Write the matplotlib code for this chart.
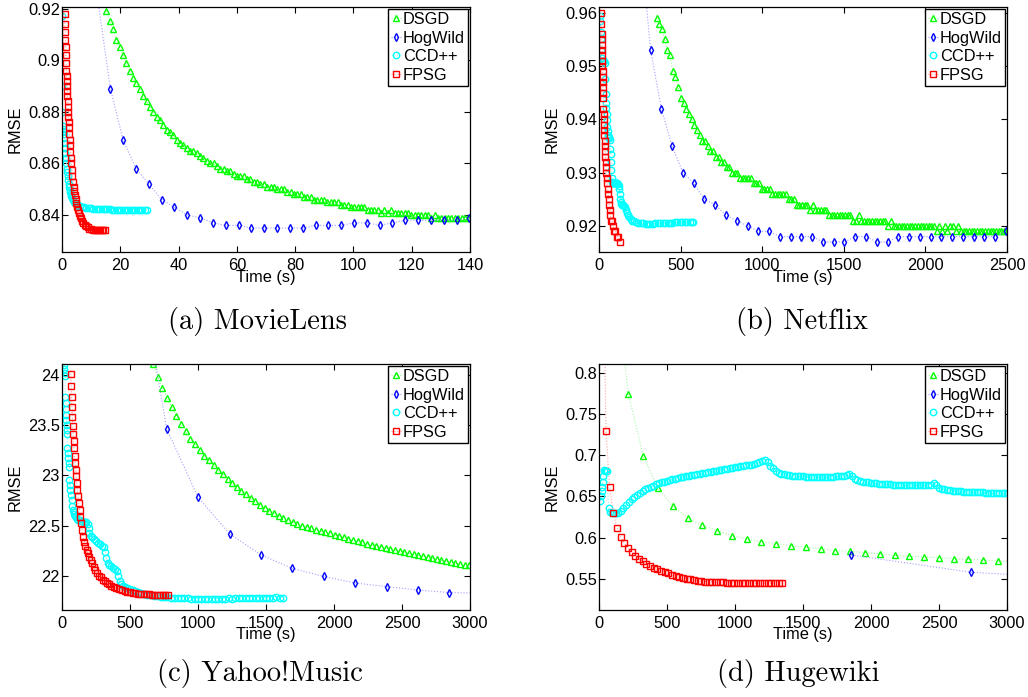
import numpy as np
import matplotlib
matplotlib.use("Agg")
import matplotlib.pyplot as plt
from matplotlib.ticker import FuncFormatter

plt.rcParams['font.family'] = ['Liberation Sans', 'DejaVu Sans']
plt.rcParams['mathtext.fontset'] = 'cm'

# ---------------------------------------------------------------- MovieLens
ml_dsgd_start, ml_dsgd_step = 15.2, 1.15
ml_dsgd = [0.919, 0.915, 0.912, 0.908, 0.905, 0.902, 0.899, 0.896, 0.893, 0.891,
           0.889, 0.886, 0.884, 0.882, 0.880, 0.878, 0.877, 0.875, 0.873, 0.872,
           0.871, 0.869, 0.868, 0.867, 0.866, 0.865, 0.865, 0.864, 0.863, 0.862,
           0.861, 0.860, 0.860, 0.859, 0.858, 0.858, 0.857, 0.857, 0.856, 0.855,
           0.855, 0.855, 0.854, 0.854, 0.853, 0.853, 0.852, 0.852, 0.851, 0.851,
           0.851, 0.850, 0.850, 0.850, 0.849, 0.849, 0.848, 0.848, 0.848, 0.847,
           0.847, 0.847, 0.846, 0.846, 0.846, 0.846, 0.845, 0.845, 0.845, 0.845,
           0.844, 0.844, 0.844, 0.843, 0.843, 0.843, 0.843, 0.843, 0.842, 0.842,
           0.842, 0.842, 0.841, 0.842, 0.841, 0.842, 0.841, 0.841, 0.841, 0.841,
           0.841, 0.840, 0.840, 0.840, 0.840, 0.840, 0.840, 0.839, 0.840, 0.839,
           0.839, 0.839, 0.839, 0.839, 0.839, 0.839, 0.839, 0.839, 0.839]
ml_hog_start, ml_hog_step = 7.8, 4.4
ml_hog = [1.0, 0.924, 0.889, 0.869, 0.858, 0.852, 0.846, 0.843, 0.840, 0.839,
          0.837, 0.836, 0.836, 0.835, 0.835, 0.835, 0.835, 0.835, 0.836, 0.836,
          0.836, 0.837, 0.837, 0.836, 0.837, 0.838, 0.838, 0.838, 0.838, 0.838,
          0.839]
ml_ccd_t = [0.05, 0.1, 0.15, 0.2, 0.3, 0.45, 0.6, 0.75, 0.9, 1.05, 1.2, 1.35, 1.5,
            1.65, 1.8, 1.95, 2.1, 2.25, 2.4, 2.6, 2.8, 3.0, 3.25, 3.5, 3.8, 4.1,
            4.5, 5.0, 5.6, 6.2, 6.9, 7.6, 8.4, 9.2, 10.0, 10.8, 11.6, 12.4, 13.2,
            14.0, 14.8, 15.6, 16.4, 17.2, 18.0, 18.8, 19.6, 20.4, 21.2, 22.0,
            22.8, 23.6, 24.4, 25.2, 26.0, 26.8, 27.6, 28.4, 29.2]
ml_ccd = [0.917, 0.890, 0.880, 0.8745, 0.8735, 0.8725, 0.8715, 0.870, 0.868,
          0.866, 0.864, 0.862, 0.860, 0.858, 0.8565, 0.855, 0.8535, 0.852, 0.851,
          0.8498, 0.8488, 0.848, 0.8472, 0.8465, 0.8458, 0.8452, 0.8446, 0.8441,
          0.8437, 0.8434, 0.8432, 0.843, 0.8428, 0.8427, 0.8426, 0.8425, 0.8424,
          0.8424, 0.8423, 0.8423, 0.8422, 0.8422, 0.8422, 0.8421, 0.8421, 0.8421,
          0.842, 0.842, 0.842, 0.842, 0.842, 0.8419, 0.8419, 0.8419, 0.8419,
          0.8419, 0.8419, 0.8419, 0.8419]
ml_fpsg_t = [0.92, 1.00, 1.08, 1.16, 1.24, 1.32, 1.40, 1.48, 1.56, 1.64, 1.72,
             1.80, 1.88, 1.96, 2.04, 2.12, 2.20, 2.30, 2.40, 2.52, 2.64, 2.76,
             2.90, 3.05, 3.20, 3.38, 3.56, 3.76, 3.96, 4.18, 4.40, 4.65, 4.90,
             5.2, 5.5, 5.8, 6.1, 6.5, 6.9, 7.3, 7.8, 8.3, 8.8, 9.4, 10.0, 10.6,
             11.2, 11.8, 12.4, 13.0, 13.6, 14.1, 14.65]
ml_fpsg = [0.918, 0.914, 0.911, 0.908, 0.905, 0.902, 0.899, 0.896, 0.894, 0.892,
           0.890, 0.888, 0.886, 0.884, 0.882, 0.880, 0.878, 0.876, 0.874, 0.8715,
           0.869, 0.867, 0.8645, 0.862, 0.860, 0.8575, 0.855, 0.8528, 0.851,
           0.8492, 0.8478, 0.8462, 0.8448, 0.8433, 0.842, 0.8408, 0.8398, 0.8388,
           0.8379, 0.8371, 0.8363, 0.8357, 0.8352, 0.8348, 0.8346, 0.8344, 0.8343,
           0.8342, 0.8342, 0.8342, 0.8342, 0.8342, 0.8342]

# ---------------------------------------------------------------- Netflix
nf_dsgd_start, nf_dsgd_step = 353, 16.5
nf_dsgd = [0.959, 0.958, 0.957, 0.955, 0.953, 0.952, 0.949, 0.948, 0.946, 0.944,
           0.943, 0.942, 0.941, 0.940, 0.939, 0.938, 0.937, 0.936, 0.936, 0.935,
           0.934, 0.934, 0.933, 0.933, 0.932, 0.932, 0.931, 0.931, 0.930, 0.930,
           0.930, 0.929, 0.929, 0.929, 0.929, 0.929, 0.928, 0.928, 0.928, 0.927,
           0.927, 0.927, 0.927, 0.926, 0.926, 0.926, 0.926, 0.926, 0.926, 0.925,
           0.925, 0.925, 0.924, 0.924, 0.924, 0.924, 0.924, 0.923, 0.924, 0.923,
           0.923, 0.923, 0.923, 0.923, 0.922, 0.922, 0.922, 0.922, 0.922, 0.922,
           0.922, 0.922, 0.922, 0.921, 0.921, 0.922, 0.921, 0.921, 0.921, 0.921,
           0.921, 0.921, 0.921, 0.921, 0.921, 0.921, 0.920, 0.921, 0.920, 0.920,
           0.920, 0.920, 0.920, 0.920, 0.920, 0.920, 0.920, 0.920, 0.920, 0.920,
           0.920, 0.920, 0.920, 0.920, 0.919, 0.920, 0.919, 0.920, 0.919, 0.920,
           0.920, 0.919, 0.920, 0.919, 0.919, 0.919, 0.919, 0.919, 0.919, 0.919,
           0.919, 0.919, 0.919, 0.919, 0.919, 0.919, 0.919, 0.919, 0.919, 0.919,
           0.919]
nf_hog_start, nf_hog_step = 250, 66
nf_hog = [0.9753, 0.953, 0.942, 0.935, 0.930, 0.928, 0.925, 0.924, 0.922, 0.921,
          0.920, 0.919, 0.919, 0.918, 0.918, 0.918, 0.918, 0.917, 0.917, 0.917,
          0.918, 0.918, 0.917, 0.917, 0.918, 0.918, 0.918, 0.918, 0.918, 0.918,
          0.918, 0.918, 0.918, 0.918, 0.919]
nf_ccd_t = [6, 8, 10, 12, 14, 16, 19, 23, 27, 31, 35, 38, 41, 43, 45, 47, 49, 51,
            53, 55, 58, 61, 64, 67, 70, 72, 74, 76, 78, 80, 84, 88, 92, 96, 100,
            104, 108, 112, 116, 120, 124, 127, 130, 133, 136, 140, 145, 150, 155,
            160, 165, 170, 178, 186, 195, 205, 215, 225, 240, 255, 270, 285, 300,
            315, 330, 345, 360, 375, 390, 405, 420, 435, 450, 465, 480, 495, 510,
            525, 540, 555, 570, 578]
nf_ccd = [0.9595, 0.9585, 0.9565, 0.955, 0.953, 0.9515, 0.951, 0.951, 0.951,
          0.951, 0.9505, 0.9475, 0.9447, 0.943, 0.9422, 0.941, 0.9398, 0.9386,
          0.9378, 0.937, 0.9366, 0.9366, 0.9365, 0.9362, 0.9345, 0.9335, 0.932,
          0.9305, 0.929, 0.9282, 0.928, 0.928, 0.928, 0.928, 0.928, 0.928, 0.928,
          0.928, 0.9278, 0.9275, 0.927, 0.926, 0.925, 0.9245, 0.9242, 0.924,
          0.924, 0.924, 0.9238, 0.9235, 0.923, 0.9225, 0.922, 0.9216, 0.9213,
          0.921, 0.9209, 0.9207, 0.9206, 0.9205, 0.9205, 0.9204, 0.9204, 0.9204,
          0.9204, 0.9205, 0.9205, 0.9205, 0.9205, 0.9206, 0.9206, 0.9205, 0.9206,
          0.9207, 0.9207, 0.9207, 0.9207, 0.9208, 0.9208, 0.9208, 0.9208, 0.9207]
nf_fpsg_t = [14, 15, 16, 17, 18, 19, 20, 20.5, 21, 22, 23, 23.5, 24, 25, 26, 27,
             28, 29, 30, 31, 32.5, 34, 35.5, 37, 39, 41, 43, 45, 47.5, 50, 53, 56,
             59, 62, 66, 70, 75, 80, 86, 93, 100, 108, 116, 127]
nf_fpsg = [0.960, 0.958, 0.956, 0.955, 0.954, 0.953, 0.952, 0.951, 0.950, 0.949,
           0.948, 0.947, 0.946, 0.945, 0.944, 0.942, 0.941, 0.940, 0.939, 0.938,
           0.937, 0.936, 0.935, 0.934, 0.933, 0.932, 0.931, 0.930, 0.929, 0.928,
           0.927, 0.926, 0.925, 0.924, 0.923, 0.922, 0.921, 0.921, 0.920, 0.919,
           0.919, 0.918, 0.918, 0.917]

# ---------------------------------------------------------------- Yahoo!Music
ym_dsgd_start, ym_dsgd_step = 670, 34.2
ym_dsgd = [24.11, 23.98, 23.87, 23.77, 23.68, 23.59, 23.51, 23.44, 23.36, 23.31,
           23.25, 23.19, 23.15, 23.10, 23.05, 23.01, 22.96, 22.92, 22.88, 22.84,
           22.81, 22.77, 22.74, 22.71, 22.68, 22.65, 22.63, 22.60, 22.58, 22.555,
           22.535, 22.515, 22.50, 22.49, 22.475, 22.46, 22.45, 22.435, 22.425,
           22.41, 22.40, 22.385, 22.37, 22.36, 22.345, 22.335, 22.32, 22.31, 22.30,
           22.29, 22.28, 22.265, 22.255, 22.245, 22.235, 22.225, 22.215, 22.205,
           22.195, 22.185, 22.175, 22.165, 22.155, 22.145, 22.135, 22.125, 22.115,
           22.11, 22.105]
ym_hog_start, ym_hog_step = 539, 231
ym_hog = [25.3, 23.46, 22.78, 22.42, 22.21, 22.075, 21.995, 21.93, 21.895, 21.86,
          21.835, 21.83]
ym_ccd_t = [15, 17, 19, 21, 24, 26, 28, 30, 32, 34, 36, 38, 40, 43, 46, 49, 52,
            55, 58, 62, 66, 70, 75, 80, 85, 90, 95, 100, 110, 120, 130, 140, 150,
            160, 170, 180, 190, 196, 202, 210, 220, 235, 250, 265, 280, 295, 310,
            318, 326, 335, 345, 360, 375, 390, 405, 415, 425, 437, 450, 465, 480,
            500, 520, 540, 560, 580, 600]
ym_ccd = [24.10, 24.06, 24.02, 23.99, 23.78, 23.72, 23.66, 23.60, 23.55, 23.50,
          23.45, 23.41, 23.27, 23.22, 23.17, 23.12, 23.08, 22.95, 22.90, 22.85,
          22.80, 22.75, 22.70, 22.66, 22.64, 22.62, 22.60, 22.585, 22.57, 22.56,
          22.555, 22.55, 22.545, 22.54, 22.54, 22.535, 22.52, 22.48, 22.43, 22.40,
          22.385, 22.37, 22.35, 22.33, 22.315, 22.30, 22.29, 22.24, 22.18, 22.13,
          22.11, 22.095, 22.08, 22.065, 22.05, 22.00, 21.95, 21.92, 21.905,
          21.895, 21.885, 21.87, 21.86, 21.85, 21.84, 21.83, 21.82]
ym_ccd_tail_start, ym_ccd_tail_step = 625, 25
ym_ccd_tail = [21.815, 21.808, 21.802, 21.797, 21.793, 21.79, 21.787, 21.785,
               21.783, 21.781, 21.779, 21.778, 21.777, 21.776, 21.775, 21.775,
               21.774, 21.773, 21.774, 21.775, 21.774, 21.776, 21.775, 21.776,
               21.777, 21.776, 21.778, 21.779, 21.778, 21.780, 21.781, 21.780,
               21.782, 21.783, 21.782, 21.785, 21.786, 21.785, 21.787, 21.786,
               21.786]
ym_fpsg_t = [64, 67, 70, 73, 76, 79, 82, 85, 88, 92, 96, 100, 104, 108, 113, 118,
             123, 129, 135, 141, 148, 155, 163, 172, 181, 190, 200, 210, 220, 232,
             245, 258, 272, 286, 300, 315, 330, 345, 360, 380, 400, 420, 440, 460,
             480, 500, 520, 540, 560, 580, 600, 620, 640, 660, 680, 700, 720, 740,
             760, 780]
ym_fpsg = [24.01, 23.89, 23.78, 23.68, 23.58, 23.49, 23.41, 23.34, 23.27, 23.19,
           23.12, 23.055, 22.99, 22.92, 22.855, 22.79, 22.725, 22.66, 22.59,
           22.525, 22.46, 22.39, 22.34, 22.30, 22.26, 22.225, 22.19, 22.155,
           22.125, 22.09, 22.055, 22.025, 22.0, 21.985, 21.965, 21.947, 21.93,
           21.916, 21.903, 21.89, 21.878, 21.868, 21.86, 21.852, 21.845, 21.838,
           21.832, 21.828, 21.825, 21.822, 21.82, 21.818, 21.816, 21.815, 21.814,
           21.813, 21.812, 21.812, 21.811, 21.811]

# ---------------------------------------------------------------- Hugewiki
hw_dsgd_start, hw_dsgd_step = 107.5, 108.7
hw_dsgd = [0.935, 0.7744, 0.6994, 0.660, 0.6385, 0.6243, 0.6149, 0.6084, 0.6024,
           0.5983, 0.595, 0.5926, 0.5902, 0.5881, 0.5865, 0.5841, 0.5833, 0.5817,
           0.5804, 0.5784, 0.5772, 0.5764, 0.5756, 0.5744, 0.5735, 0.5727, 0.5715,
           0.5705]
hw_hog_t = [1856, 2738, 3620]
hw_hog = [0.5788, 0.5577, 0.5496]
hw_ccd_t = [10, 15, 20, 24, 28, 32, 37, 45, 52, 60, 71, 81, 95, 110, 125, 140]
hw_ccd = [0.645, 0.650, 0.656, 0.661, 0.667, 0.6754, 0.6823, 0.6815, 0.681,
          0.6803, 0.6364, 0.6308, 0.630, 0.630, 0.630, 0.630]
hw_ccd_tail_start, hw_ccd_tail_step = 160, 20
hw_ccd_tail = [0.632, 0.636, 0.640, 0.6435, 0.6465, 0.6495, 0.6522, 0.6545,
               0.6565, 0.6585, 0.660, 0.6615, 0.663, 0.6645, 0.6658, 0.667, 0.668,
               0.669, 0.670, 0.6708, 0.6716, 0.6724, 0.6731, 0.6738, 0.6745, 0.675,
               0.6756, 0.6762, 0.6768, 0.6774, 0.678, 0.6786, 0.6792, 0.6798,
               0.6804, 0.681, 0.682, 0.6826, 0.6832, 0.6838, 0.6843, 0.6848,
               0.6853, 0.6858, 0.6864, 0.687, 0.6876, 0.6882, 0.6888, 0.6895,
               0.6905, 0.6915, 0.6928, 0.6945, 0.692, 0.6875, 0.684, 0.681, 0.679,
               0.6778, 0.6768, 0.6762, 0.6756, 0.6752, 0.6748, 0.6746, 0.6744,
               0.6743, 0.6742, 0.6741, 0.6741, 0.6741, 0.6741, 0.6741, 0.6741,
               0.6742, 0.6742, 0.6742, 0.6742, 0.6743, 0.6744, 0.6745, 0.6748,
               0.6755, 0.6775, 0.6745, 0.6715, 0.6698, 0.6688, 0.6681, 0.6675,
               0.667, 0.6666, 0.6662, 0.6658, 0.6654, 0.6651, 0.6649, 0.6647,
               0.6645, 0.6644, 0.6643, 0.6642, 0.6641, 0.664, 0.6639, 0.6638,
               0.6637, 0.6636, 0.6635, 0.6635, 0.6634, 0.6634, 0.6635, 0.6642,
               0.6662, 0.664, 0.6605, 0.6595, 0.6587, 0.658, 0.6575, 0.6571,
               0.6567, 0.6564, 0.6561, 0.6558, 0.6556, 0.6555, 0.6553, 0.6552,
               0.655, 0.6549, 0.6548, 0.6547, 0.6546, 0.6545, 0.6544, 0.6543,
               0.6542, 0.6541, 0.654, 0.6539]
hw_fpsg_start, hw_fpsg_step = 24, 27
hw_fpsg = [1.04, 0.730, 0.662, 0.630, 0.612, 0.601, 0.593, 0.587, 0.582, 0.578,
           0.574, 0.571, 0.568, 0.566, 0.5635, 0.5615, 0.5595, 0.558, 0.5565,
           0.555, 0.5535, 0.5522, 0.551, 0.550, 0.549, 0.548, 0.5473, 0.5468,
           0.5465, 0.546, 0.546, 0.5455, 0.5455, 0.5455, 0.545, 0.545, 0.545,
           0.545, 0.545, 0.5445, 0.5445, 0.5445, 0.5445, 0.5445, 0.5445, 0.5445,
           0.5445, 0.5445, 0.5445, 0.5445]

methods = ['DSGD', 'HogWild', 'CCD++', 'FPSG']
captions = ['(a) MovieLens', '(b) Netflix', '(c) Yahoo!Music', '(d) Hugewiki']


def evenly(start, step, values):
    return start + step * np.arange(len(values))


panels = [
    dict(series=[(evenly(ml_dsgd_start, ml_dsgd_step, ml_dsgd), ml_dsgd),
                 (evenly(ml_hog_start, ml_hog_step, ml_hog), ml_hog),
                 (ml_ccd_t, ml_ccd),
                 (ml_fpsg_t, ml_fpsg)],
         xlim=(0, 140), ylim=(0.8257, 0.9206),
         xticks=np.arange(0, 141, 20), yticks=[0.84, 0.86, 0.88, 0.90, 0.92]),
    dict(series=[(evenly(nf_dsgd_start, nf_dsgd_step, nf_dsgd), nf_dsgd),
                 (evenly(nf_hog_start, nf_hog_step, nf_hog), nf_hog),
                 (nf_ccd_t, nf_ccd),
                 (nf_fpsg_t, nf_fpsg)],
         xlim=(0, 2500), ylim=(0.9151, 0.9611),
         xticks=np.arange(0, 2501, 500), yticks=[0.92, 0.93, 0.94, 0.95, 0.96]),
    dict(series=[(evenly(ym_dsgd_start, ym_dsgd_step, ym_dsgd), ym_dsgd),
                 (evenly(ym_hog_start, ym_hog_step, ym_hog), ym_hog),
                 (np.concatenate([ym_ccd_t, evenly(ym_ccd_tail_start, ym_ccd_tail_step, ym_ccd_tail)]),
                  ym_ccd + ym_ccd_tail),
                 (ym_fpsg_t, ym_fpsg)],
         xlim=(0, 3000), ylim=(21.662, 24.106),
         xticks=np.arange(0, 3001, 500), yticks=[22, 22.5, 23, 23.5, 24]),
    dict(series=[(evenly(hw_dsgd_start, hw_dsgd_step, hw_dsgd), hw_dsgd),
                 (hw_hog_t, hw_hog),
                 (np.concatenate([hw_ccd_t, evenly(hw_ccd_tail_start, hw_ccd_tail_step, hw_ccd_tail)]),
                  hw_ccd + hw_ccd_tail),
                 (evenly(hw_fpsg_start, hw_fpsg_step, hw_fpsg), hw_fpsg)],
         xlim=(0, 3000), ylim=(0.5119, 0.811),
         xticks=np.arange(0, 3001, 500), yticks=[0.55, 0.6, 0.65, 0.7, 0.75, 0.8]),
]

styles = {
    'DSGD':    dict(color='#00ff00', line='#a6f5a6', marker='^', ms=4.8),
    'HogWild': dict(color='#0000ff', line='#a0a0ff', marker='d', ms=4.2),
    'CCD++':   dict(color='#00ffff', line='#a0ffff', marker='o', ms=4.6),
    'FPSG':    dict(color='#ff0000', line='#ffa0a0', marker='s', ms=3.9),
}

W, H = 1028, 697
fig = plt.figure(figsize=(W / 100, H / 100), dpi=100)
fig.patch.set_facecolor('white')

# panel boxes in pixels: left, top, right, bottom
boxes = [(62, 7, 470, 252), (599, 7, 1007, 252),
         (62, 364, 470, 610), (599, 364, 1007, 610)]
caption_pos = [(258, 322), (802, 322), (260, 674), (798, 674)]
fs = 11.8

for k, (panel, box) in enumerate(zip(panels, boxes)):
    l, t, r, b = box
    ax = fig.add_axes([l / W, 1 - b / H, (r - l) / W, (b - t) / H])
    for name, (xs, ys) in zip(methods, panel['series']):
        st = styles[name]
        ax.plot(xs, ys, linestyle=':', linewidth=0.8, color=st['line'],
                marker=st['marker'], markersize=st['ms'], markeredgewidth=1.0,
                markeredgecolor=st['color'], markerfacecolor='none', label=name)
    ax.set_xlim(*panel['xlim'])
    ax.set_ylim(*panel['ylim'])
    ax.set_xticks(panel['xticks'])
    ax.set_yticks(panel['yticks'])
    ax.yaxis.set_major_formatter(FuncFormatter(lambda v, p: '%g' % round(v, 4)))
    ax.tick_params(direction='in', length=4, width=0.8, top=True, right=True,
                   labelsize=fs, colors='black')
    ax.tick_params(axis='y', pad=1.5)
    ax.tick_params(axis='x', pad=4)
    for sp in ax.spines.values():
        sp.set_linewidth(0.9)
    ax.set_xlabel('Time (s)', fontsize=fs)
    ax.set_ylabel('RMSE', fontsize=fs)
    ax.xaxis.set_label_coords(0.5, -0.072 if k < 2 else -0.069)
    ax.yaxis.set_label_coords(-0.096, 0.5)
    leg = ax.legend(loc='upper right', fontsize=fs, frameon=True, fancybox=False,
                    edgecolor='black', framealpha=1, borderpad=0.2,
                    handlelength=0.6, handletextpad=0.15, labelspacing=0.22,
                    borderaxespad=0.1, numpoints=1)
    leg.get_frame().set_linewidth(1.0)
    cx, cy = caption_pos[k]
    fig.text(cx / W, 1 - cy / H, captions[k], fontsize=20.5, fontfamily='cmr10',
             ha='center', va='center')

fig.savefig('out.png', dpi=100, facecolor='white')
